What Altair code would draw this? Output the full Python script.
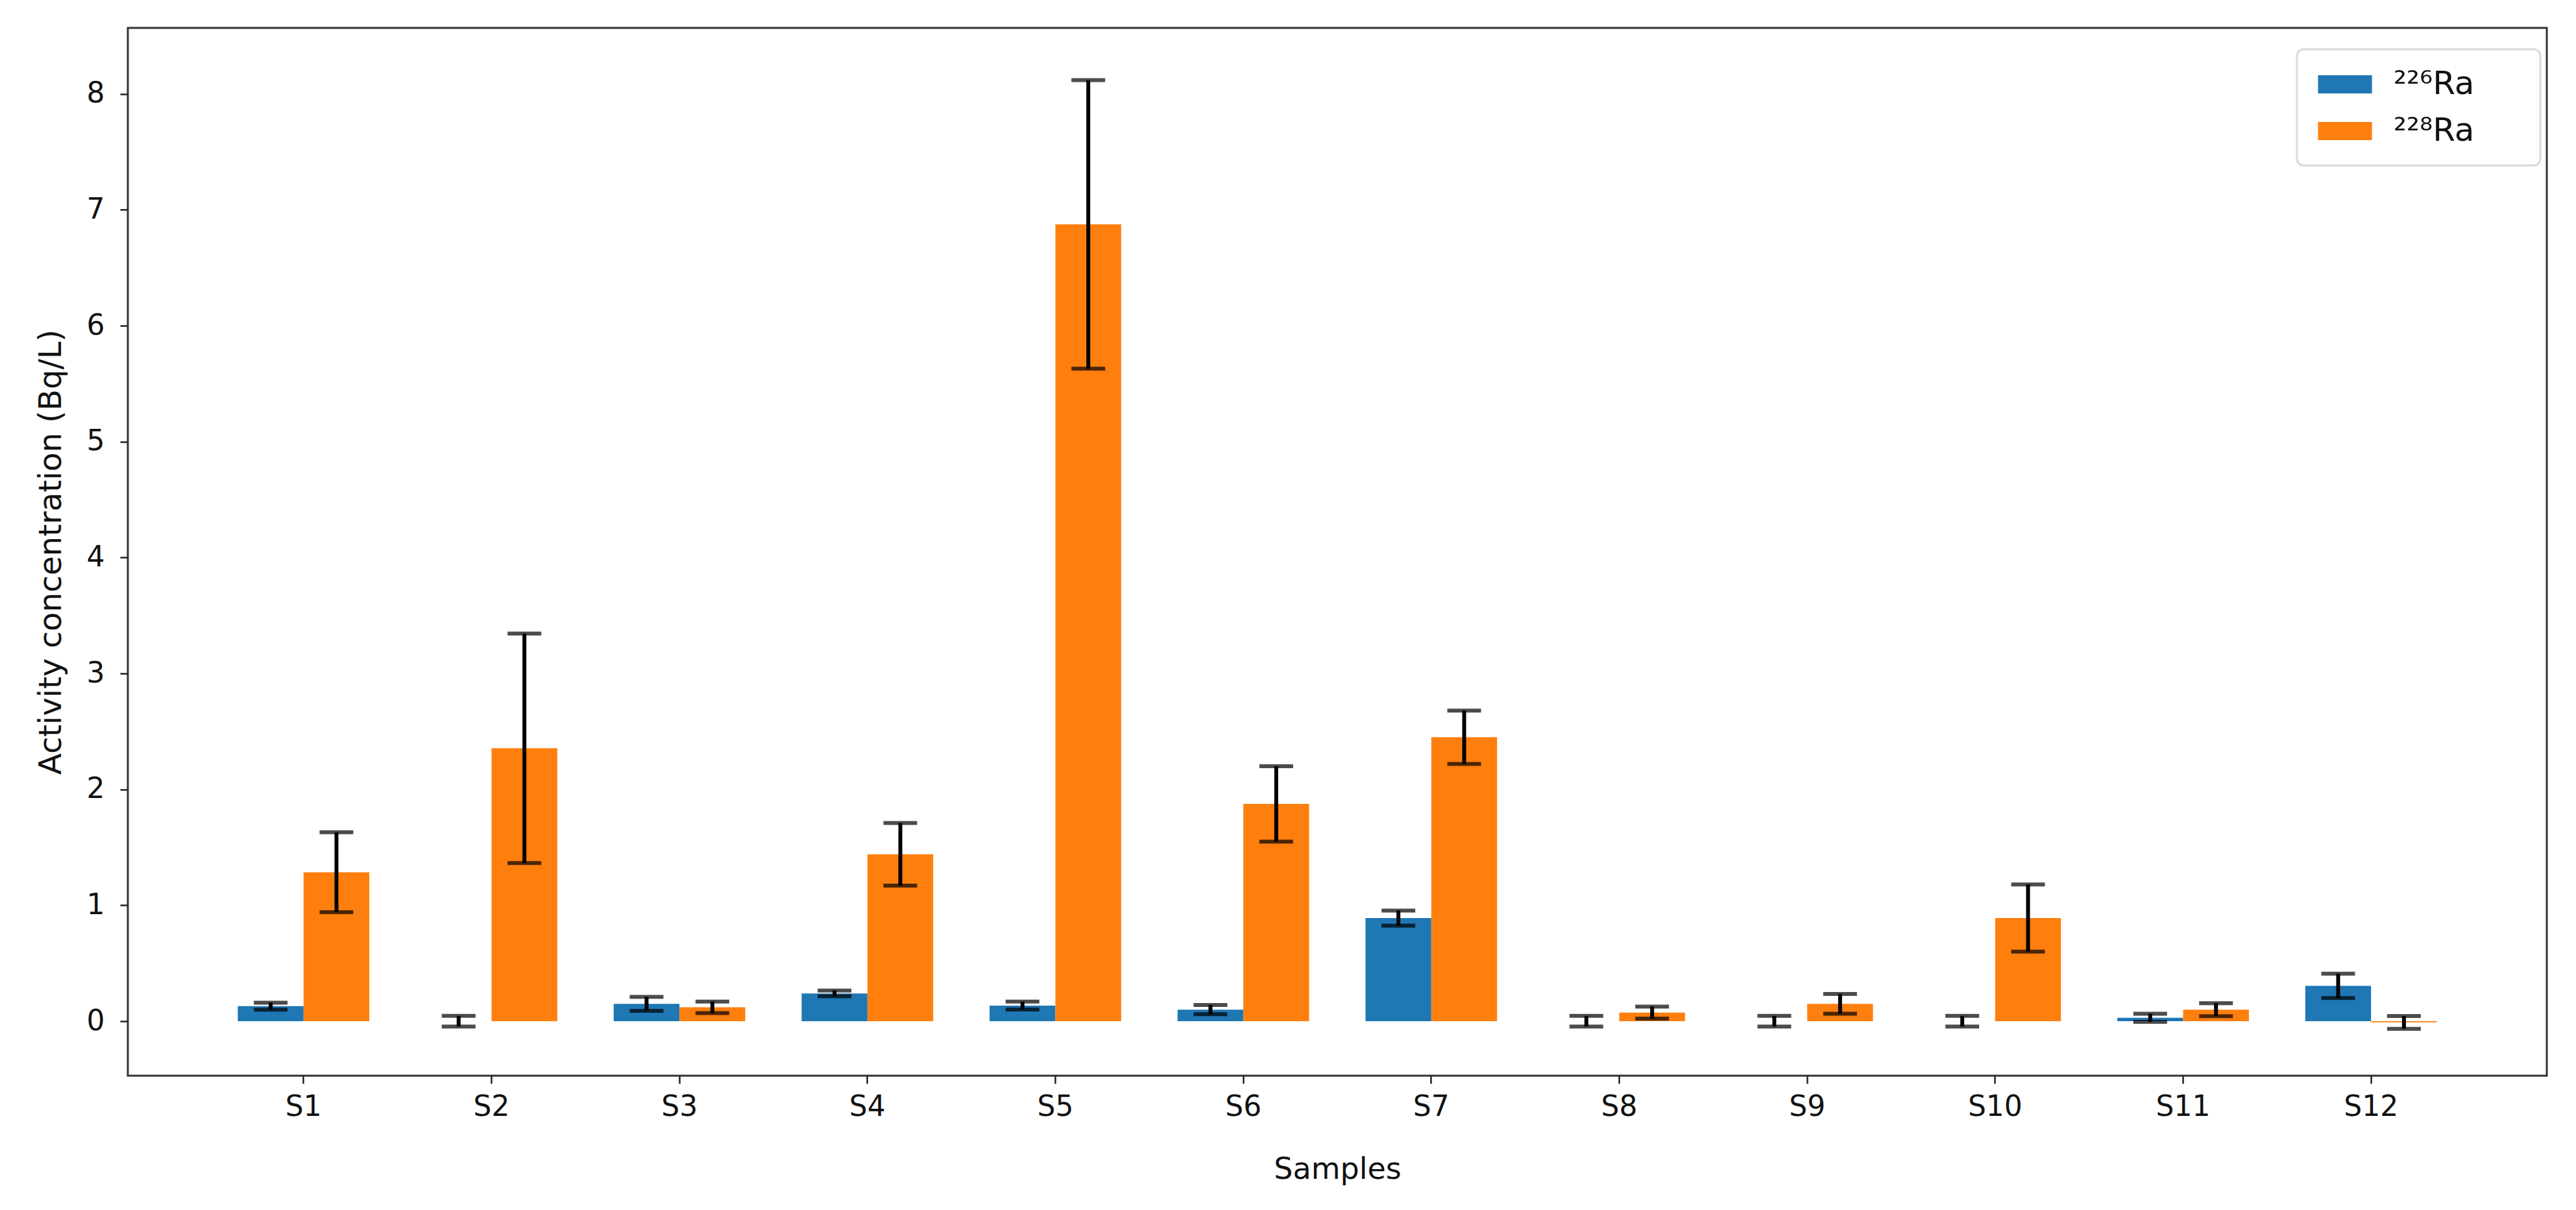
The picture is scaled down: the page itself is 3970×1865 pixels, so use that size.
import altair as alt
import pandas as pd

samples = ["S1", "S2", "S3", "S4", "S5", "S6", "S7", "S8", "S9", "S10", "S11", "S12"]
isotopes = ["²²⁶Ra", "²²⁸Ra"]
colors = ["#1f77b4", "#ff7f0e"]

ra226 = [0.13, 0.0, 0.15, 0.24, 0.135, 0.10, 0.89, 0.0, 0.0, 0.0, 0.03, 0.305]
ra226_err = [0.03, 0.046, 0.06, 0.025, 0.034, 0.04, 0.065, 0.046, 0.046, 0.046, 0.035, 0.105]
ra228 = [1.285, 2.355, 0.12, 1.44, 6.875, 1.875, 2.45, 0.074, 0.15, 0.89, 0.10, -0.01]
ra228_err = [0.345, 0.99, 0.05, 0.27, 1.245, 0.325, 0.23, 0.052, 0.085, 0.29, 0.056, 0.055]

rows = []
for iso, vals, errs in [(isotopes[0], ra226, ra226_err), (isotopes[1], ra228, ra228_err)]:
    for s, v, e in zip(samples, vals, errs):
        rows.append({"sample": s, "iso": iso, "value": v, "lo": v - e, "hi": v + e})
df = pd.DataFrame(rows)

FONT = "DejaVu Sans"

x_enc = alt.X(
    "sample:N",
    sort=samples,
    scale=alt.Scale(paddingInner=0.3, paddingOuter=0.585),
    axis=alt.Axis(
        title="Samples",
        labelAngle=0,
        labelFontSize=44,
        labelPadding=14,
        titleFontSize=46,
        titlePadding=52,
        tickSize=12,
        tickWidth=2.5,
        tickColor="#222",
        domain=False,
        labelColor="#111",
        titleColor="#111",
        titleFontWeight="normal",
    ),
)
xoff = alt.XOffset("iso:N", sort=isotopes, scale=alt.Scale(paddingInner=0, paddingOuter=0))
y_scale = alt.Scale(domain=[-0.47, 8.57], nice=False, zero=False)
y_axis = alt.Axis(
    title="Activity concentration (Bq/L)",
    values=list(range(9)),
    format="d",
    labelFontSize=44,
    labelPadding=24,
    titleFontSize=48,
    titlePadding=30,
    tickSize=12,
    tickWidth=2.5,
    tickColor="#222",
    domain=False,
    grid=False,
    labelColor="#111",
    titleColor="#111",
    titleFontWeight="normal",
)

base = alt.Chart(df)

bars = base.mark_bar().encode(
    x=x_enc,
    xOffset=xoff,
    y=alt.Y("value:Q", scale=y_scale, axis=y_axis),
    color=alt.Color(
        "iso:N",
        sort=isotopes,
        scale=alt.Scale(domain=isotopes, range=colors),
        legend=alt.Legend(
            title=None,
            orient="none",
            legendX=3343,
            legendY=33,
            symbolType="M-1.6,-0.54L1.6,-0.54L1.6,0.54L-1.6,0.54Z",
            symbolSize=2700,
            symbolOffset=20,
            symbolStrokeWidth=0,
            symbolOpacity=1,
            labelFontSize=50,
            labelFont=FONT,
            labelColor="#111",
            labelOffset=49,
            labelLimit=400,
            labelExpr="datum.label + '\u2800\u2800'",
            padding=28,
            strokeColor="#d9d9d9",
            cornerRadius=10,
            fillColor="white",
        ),
    ),
)

rules = base.mark_rule(color="black", strokeWidth=6).encode(
    x=alt.X("sample:N", sort=samples),
    xOffset=xoff,
    y=alt.Y("lo:Q", scale=y_scale),
    y2="hi:Q",
)
caps_lo = base.mark_tick(color="black", thickness=6, size=52).encode(
    x=alt.X("sample:N", sort=samples),
    xOffset=xoff,
    y=alt.Y("lo:Q", scale=y_scale),
)
caps_hi = base.mark_tick(color="black", thickness=6, size=52).encode(
    x=alt.X("sample:N", sort=samples),
    xOffset=xoff,
    y=alt.Y("hi:Q", scale=y_scale),
)

chart = (
    alt.layer(bars, rules, caps_lo, caps_hi)
    .properties(
        width=3728,
        height=1615,
        autosize=alt.AutoSizeParams(type="none"),
        padding={"left": 189, "top": 35, "right": 37, "bottom": 190},
        background="white",
    )
    .configure_view(stroke="#333", strokeWidth=3)
    .configure_axis(labelFont=FONT, titleFont=FONT)
    .configure_legend(labelFont=FONT, rowPadding=21, strokeWidth=3)
)

chart.save("out.html", embed_options={"renderer": "svg", "actions": False})
